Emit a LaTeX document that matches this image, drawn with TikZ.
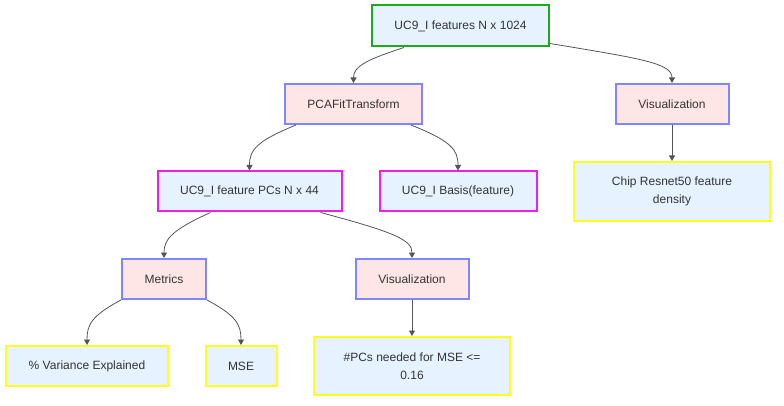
\documentclass[tikz,border=0pt]{standalone}
\usepackage{fontspec}
\setmainfont{Liberation Sans}
\usetikzlibrary{arrows.meta,calc}
\definecolor{bfill}{HTML}{E6F2FF}
\definecolor{pfill}{HTML}{FFE6E6}
\definecolor{gstroke}{HTML}{1DAA1D}
\definecolor{bstroke}{HTML}{7F86FF}
\definecolor{mstroke}{HTML}{EE1FEE}
\definecolor{ystroke}{HTML}{FFFF1A}
\definecolor{txt}{HTML}{333333}
\definecolor{edge}{HTML}{555555}
\begin{document}
\begin{tikzpicture}[x=1pt,y=-1pt,
  base/.style={rectangle, inner sep=0pt, line width=2pt, text=txt, align=center,
    font=\fontsize{12}{18}\selectfont},
  databox/.style={base, draw=gstroke, fill=bfill},
  procbox/.style={base, draw=bstroke, fill=pfill},
  outbox/.style={base, draw=mstroke, fill=bfill},
  resbox/.style={base, draw=ystroke, fill=bfill},
  conn/.style={draw=edge, line width=0.8pt, -{Triangle[length=5.5pt,width=6pt]}, color=edge}]
\useasboundingbox (0,0) rectangle (784,406);
\fill[white] (0,0) rectangle (784,406);

\node[databox, minimum width=177, minimum height=41] (top) at (460.5,26) {UC9\_I features N x 1024};
\node[procbox, minimum width=137, minimum height=40] (pca) at (353.5,104) {PCAFitTransform};
\node[procbox, minimum width=113, minimum height=40] (vizr) at (672,104) {Visualization};
\node[resbox, minimum width=196, minimum height=59] (chip) at (672,191.5) {Chip Resnet50 feature\\density};
\node[outbox, minimum width=184, minimum height=40] (pcs) at (249.5,191.5) {UC9\_I feature PCs N x 44};
\node[outbox, minimum width=157, minimum height=40] (basis) at (458,191.5) {UC9\_I Basis(feature)};
\node[procbox, minimum width=84, minimum height=40] (metrics) at (164,279) {Metrics};
\node[procbox, minimum width=113, minimum height=40] (vizl) at (412,279) {Visualization};
\node[resbox, minimum width=162, minimum height=40] (var) at (87,366) {\% Variance Explained};
\node[resbox, minimum width=71, minimum height=40] (mse) at (241,366) {MSE};
\node[resbox, minimum width=196, minimum height=58] (need) at (412,366) {\#PCs needed for MSE <=\\0.16};

\draw[conn] ($(top.south west)+(33,0)$) .. controls +(-40,13) and +(0,-16) .. (pca.north);
\draw[conn] ($(top.south east)+(0,-4)$) .. controls +(90,15) and +(0,-20) .. (vizr.north);
\draw[conn] ($(pca.south west)+(12,0)$) .. controls +(-39,16) and +(0,-21) .. (pcs.north);
\draw[conn] ($(pca.south east)+(-12,0)$) .. controls +(40,16) and +(0,-21) .. (basis.north);
\draw[conn] ($(pcs.south west)+(54,0)$) .. controls +(-40,18) and +(0,-18) .. (metrics.north);
\draw[conn] ($(pcs.south east)+(-22,0)$) .. controls +(75,20) and +(0,-18) .. (vizl.north);
\draw[conn] (metrics.south west) .. controls +(-30,16) and +(0,-20) .. (var.north);
\draw[conn] (metrics.south east) .. controls +(30,16) and +(0,-20) .. (mse.north);
\draw[conn] (vizl.south) -- (need.north);
\draw[conn] (vizr.south) -- (chip.north);
\end{tikzpicture}
\end{document}
